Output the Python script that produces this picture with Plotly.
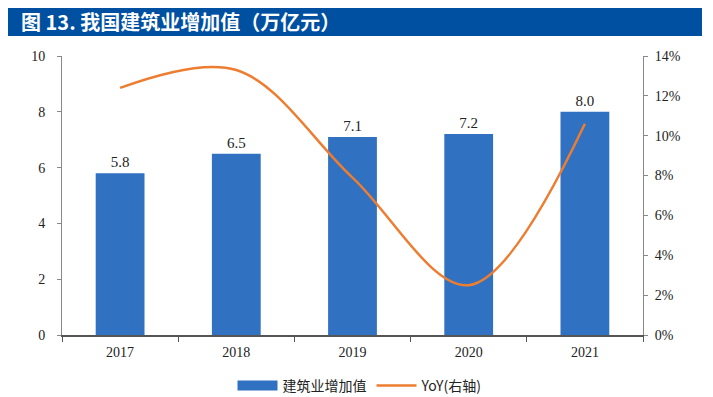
import plotly.graph_objects as go

years = ["2017", "2018", "2019", "2020", "2021"]
value_added = [5.8, 6.5, 7.1, 7.2, 8.0]
yoy = [0.124, 0.133, 0.079, 0.025, 0.106]
value_labels = ["5.8", "6.5", "7.1", "7.2", "8.0"]

# the page body has an 8px margin, so the figure starts at page (8, 8)
OFF = 8
W, H = 713, 397
PL, PR, PT, PB = 62, 643, 56, 335          # plot area in page pixels
L, T = PL - OFF, PT - OFF
R, B = W - (PR - OFF), H - (PB - OFF)
PW, PH = W - L - R, H - T - B
BAR_COLOR = "#3071C1"


def px_x(x):
    return (x - OFF - L) / PW


def px_y(y):
    return (H - B - (y - OFF)) / PH


fig = go.Figure()
fig.add_trace(go.Bar(
    x=years, y=value_added, name="建筑业增加值",
    marker=dict(color=BAR_COLOR, line=dict(width=0)),
    text=value_labels, textposition="outside",
    textfont=dict(family="Liberation Serif", size=15, color="#222222"),
    cliponaxis=False, yaxis="y", showlegend=False, legendgroup="bar",
))
# legend entry for the bars, drawn as a wide rectangle like the original
fig.add_trace(go.Scatter(
    x=[None], y=[None], name="建筑业增加值", mode="lines",
    line=dict(color=BAR_COLOR, width=10), legendgroup="bar", yaxis="y",
))
fig.add_trace(go.Scatter(
    x=years, y=yoy, name="YoY(右轴)", mode="lines",
    line=dict(color="#ED7D31", width=2.5, shape="spline", smoothing=1.0),
    yaxis="y2",
))

tickfont = dict(family="Liberation Serif", size=14, color="#222222")
fig.update_layout(
    width=W, height=H,
    margin=dict(l=L, r=R, t=T, b=B, autoexpand=False),
    paper_bgcolor="white", plot_bgcolor="white",
    bargap=0.58,
    showlegend=True,
    legend=dict(orientation="h", x=px_x(360), xanchor="center", y=px_y(386), yanchor="middle",
                font=dict(family="Noto Sans CJK SC", size=14, color="#222222"),
                itemwidth=40, tracegroupgap=0),
    xaxis=dict(type="category", showline=True, linecolor="#555555", linewidth=1.5,
               ticks="outside", tickson="boundaries", ticklen=5, tickcolor="#555555",
               tickfont=tickfont, showgrid=False, zeroline=False, ticklabelstandoff=3),
    yaxis=dict(range=[0, 10], dtick=2, showline=True, linecolor="#888888", linewidth=1,
               ticks="outside", ticklen=4, tickcolor="#888888", tickfont=tickfont,
               showgrid=False, zeroline=False, ticklabelstandoff=9),
    yaxis2=dict(range=[0, 0.14], dtick=0.02, tickformat=".0%", overlaying="y", side="right",
                showline=True, linecolor="#888888", linewidth=1, ticks="outside", ticklen=4,
                tickcolor="#888888", tickfont=tickfont, showgrid=False, zeroline=False,
                ticklabelstandoff=4),
    shapes=[dict(type="rect", xref="paper", yref="paper",
                 x0=px_x(8), x1=px_x(702), y0=px_y(36), y1=px_y(6),
                 fillcolor="#0050A2", line=dict(width=0), layer="above")],
    annotations=[dict(text="<b>图 13. 我国建筑业增加值（万亿元）</b>", xref="paper", yref="paper",
                      x=px_x(19), y=px_y(21),
                      xanchor="left", yanchor="middle", showarrow=False,
                      font=dict(family="Noto Sans CJK SC", size=20, color="white"))],
)

fig.write_html("out.html")
